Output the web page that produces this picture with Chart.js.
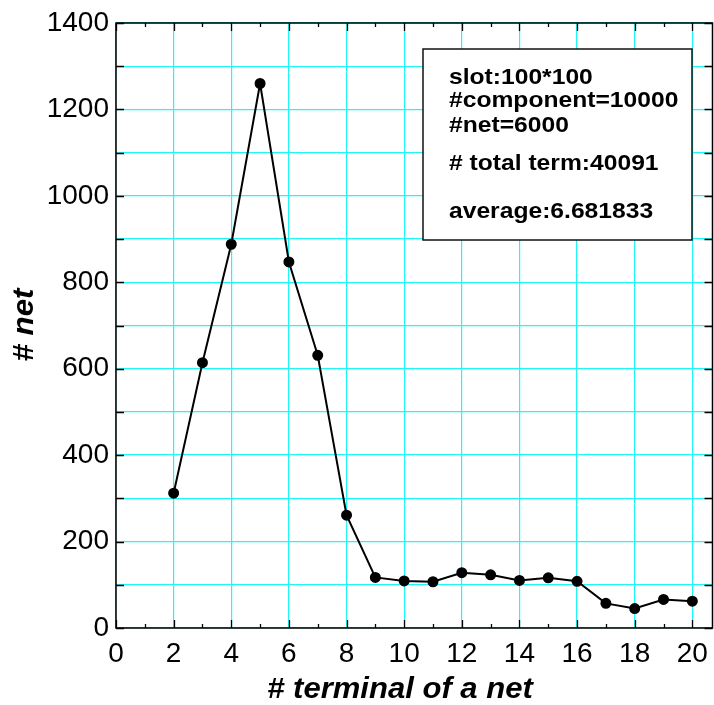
<!DOCTYPE html>
<html lang="en">
<head>
<meta charset="UTF-8">
<title>terminal distribution</title>
<script src="https://cdn.jsdelivr.net/npm/chart.js"></script>
<style>
  html, body { margin: 0; padding: 0; background: #fff; overflow: hidden; }
  #wrap { width: 714px; height: 705px; overflow: hidden; }
</style>
</head>
<body>
<div id="wrap"><canvas id="grafico" width="719" height="705"></canvas></div>
<script>
// valores
const terminais = [2, 3, 4, 5, 6, 7, 8, 9, 10, 11, 12, 13, 14, 15, 16, 17, 18, 19, 20];
const nets = [312, 614, 888, 1260, 847, 631, 261, 117, 109, 107, 128, 123, 110, 116, 108, 57, 45, 66, 62];
const xTicks = [0, 2, 4, 6, 8, 10, 12, 14, 16, 18, 20];
const yTicks = [0, 200, 400, 600, 800, 1000, 1200, 1400];
const infoLines = ['slot:100*100', '#component=10000', '#net=6000', '# total term:40091', 'average:6.681833'];

const FONT = '"Liberation Sans", Arial, Helvetica, sans-serif';

// texto um pouco mais largo, como no original
function textoLargo(ctx, txt, x, y, sx) {
  ctx.save();
  ctx.translate(x, y);
  ctx.scale(sx, 1);
  ctx.fillText(txt, 0, 0);
  ctx.restore();
}

// spines, inward tick marks, axis titles and the info box
const moldura = {
  id: 'moldura',
  afterDraw(chart) {
    const ctx = chart.ctx;
    const a = chart.chartArea;
    const xs = chart.scales.x, ys = chart.scales.y;
    ctx.save();
    ctx.strokeStyle = '#000';
    ctx.lineWidth = 1.3;

    // ticks on x (every 1), top and bottom
    for (let v = 0; v <= 20; v++) {
      const px = Math.round(xs.getPixelForValue(v)) + 0.5;
      const len = v % 2 === 0 ? 8 : 4;
      ctx.beginPath();
      ctx.moveTo(px, a.bottom); ctx.lineTo(px, a.bottom - len);
      ctx.moveTo(px, a.top); ctx.lineTo(px, a.top + len);
      ctx.stroke();
    }
    // ticks on y (every 100), left and right
    for (let v = 0; v <= 1400; v += 100) {
      const py = Math.round(ys.getPixelForValue(v)) + 0.5;
      ctx.beginPath();
      ctx.moveTo(a.left, py); ctx.lineTo(a.left + 8, py);
      ctx.moveTo(a.right, py); ctx.lineTo(a.right - 8, py);
      ctx.stroke();
    }
    // frame
    ctx.lineWidth = 1.5;
    ctx.strokeRect(a.left, a.top, a.right - a.left, a.bottom - a.top);

    // axis titles
    ctx.fillStyle = '#000';
    ctx.font = 'italic bold 29px ' + FONT;
    ctx.textAlign = 'center';
    ctx.textBaseline = 'alphabetic';
    textoLargo(ctx, '# terminal of a net', 400, 698, 1.07);
    ctx.save();
    ctx.translate(33, 325);
    ctx.rotate(-Math.PI / 2);
    textoLargo(ctx, '# net', 0, 0, 1.08);
    ctx.restore();

    // info box
    ctx.fillStyle = '#fff';
    ctx.fillRect(423, 49, 269, 191);
    ctx.strokeStyle = '#111';
    ctx.lineWidth = 1.5;
    ctx.strokeRect(423, 49, 269, 191);
    ctx.fillStyle = '#000';
    ctx.font = 'bold 22px ' + FONT;
    ctx.textAlign = 'left';
    const bases = [84, 107, 132, 170, 218];
    infoLines.forEach((t, i) => textoLargo(ctx, t, 449, bases[i], 1.12));
    ctx.restore();
  }
};

const ctx = document.getElementById('grafico').getContext('2d');
new Chart(ctx, {
  type: 'line',
  data: {
    datasets: [{
      data: terminais.map((t, i) => ({ x: t, y: nets[i] })),
      borderColor: '#000',
      borderWidth: 2,
      backgroundColor: '#000',
      pointBackgroundColor: '#000',
      pointBorderColor: '#000',
      pointRadius: 4.5,
      tension: 0
    }]
  },
  options: {
    responsive: false,
    animation: false,
    events: [],
    layout: { padding: { top: 23, right: 0, left: 0, bottom: 0 } },
    plugins: { legend: { display: false }, tooltip: { enabled: false } },
    scales: {
      x: {
        type: 'linear',
        min: 0, max: 20.7,
        afterBuildTicks: (s) => { s.ticks = xTicks.map(v => ({ value: v })); },
        afterFit: (s) => { s.height = 77; s.paddingLeft = 0; s.paddingRight = 0; },
        grid: { color: '#1ff7f7', lineWidth: 1.2, drawTicks: false },
        border: { display: false },
        ticks: {
          color: '#000',
          font: { family: FONT, size: 28 },
          padding: 9,
          maxRotation: 0,
          autoSkip: false
        }
      },
      y: {
        min: 0, max: 1400,
        ticks: {
          stepSize: 100,
          color: '#000',
          font: { family: FONT, size: 28 },
          padding: 7,
          autoSkip: false,
          callback: (v) => yTicks.includes(v) ? String(v) : ''
        },
        afterFit: (s) => { s.width = 116; s.paddingTop = 0; s.paddingBottom = 0; },
        grid: { color: '#1ff7f7', lineWidth: 1.3, drawTicks: false },
        border: { display: false }
      }
    }
  },
  plugins: [moldura]
});
</script>
</body>
</html>
